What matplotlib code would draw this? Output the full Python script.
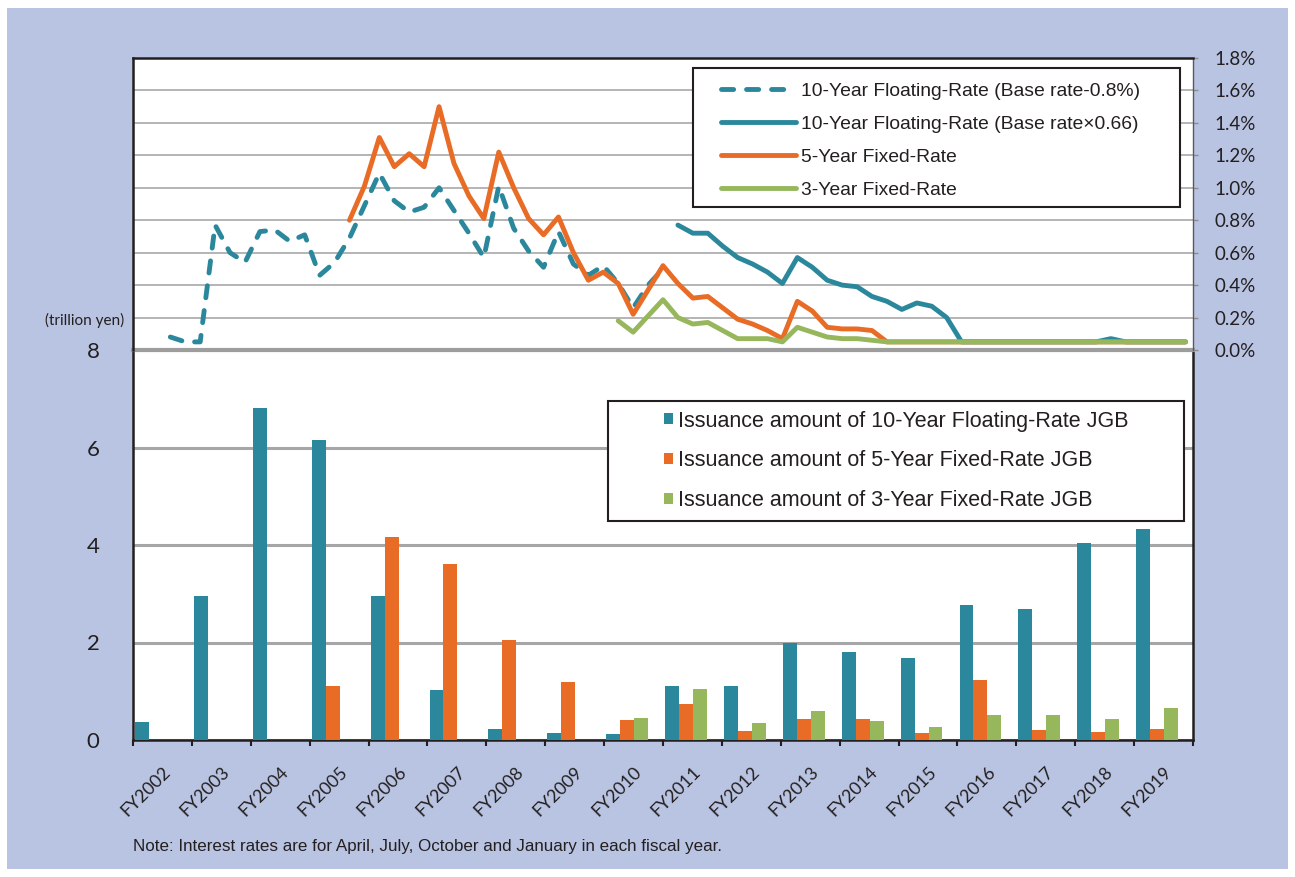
import numpy as np
import matplotlib.pyplot as plt
from matplotlib.patches import Rectangle

plt.rcParams['font.family'] = ['Lato', 'DejaVu Sans']

# fiscal years (bar categories)
years = ["FY2002", "FY2003", "FY2004", "FY2005", "FY2006", "FY2007", "FY2008", "FY2009", "FY2010",
         "FY2011", "FY2012", "FY2013", "FY2014", "FY2015", "FY2016", "FY2017", "FY2018", "FY2019"]

# issuance amount (trillion yen)
float_issue = [0.37, 2.95, 6.81, 6.15, 2.95, 1.03, 0.23, 0.15, 0.12,
               1.11, 1.11, 1.99, 1.81, 1.68, 2.77, 2.69, 4.04, 4.33]
fixed5_issue = [None, None, None, 1.11, 4.16, 3.61, 2.05, 1.19, 0.41,
                0.74, 0.18, 0.43, 0.43, 0.15, 1.23, 0.21, 0.17, 0.23]
fixed3_issue = [None, None, None, None, None, None, None, None, 0.45,
                1.05, 0.35, 0.59, 0.39, 0.27, 0.51, 0.51, 0.43, 0.66]

# interest rates (%), quarterly: Apr/Jul/Oct/Jan, FY2002 Q1 .. FY2019 Q3 (71 points)
n_quarters = 71
float_old_start = 2
float_old_rate = [0.08, 0.05, 0.05, 0.77, 0.60, 0.54, 0.73, 0.74, 0.67, 0.71, 0.46, 0.54,
                  0.69, 0.89, 1.09, 0.92, 0.85, 0.88, 1.00, 0.86, 0.72, 0.57, 1.01, 0.75,
                  0.61, 0.51, 0.73, 0.53, 0.46, 0.52, 0.41, 0.26, 0.40, 0.50]
float_new_start = 36
float_new_rate = [0.77, 0.72, 0.72, 0.64, 0.57, 0.53, 0.48, 0.41, 0.57, 0.51, 0.43, 0.40,
                  0.39, 0.33, 0.30, 0.25, 0.29, 0.27, 0.20, 0.05, 0.05, 0.05, 0.05, 0.05,
                  0.05, 0.05, 0.05, 0.05, 0.05, 0.07, 0.05, 0.05, 0.05, 0.05, 0.05]
fixed5_start = 14
fixed5_rate = [0.80, 1.01, 1.31, 1.13, 1.21, 1.13, 1.50, 1.15, 0.95, 0.81, 1.22, 1.00,
               0.81, 0.71, 0.82, 0.60, 0.43, 0.48, 0.41, 0.22, 0.37, 0.52, 0.41, 0.32,
               0.33, 0.26, 0.19, 0.16, 0.12, 0.07, 0.30, 0.24, 0.14, 0.13, 0.13, 0.12,
               0.05, 0.05, 0.05, 0.05, 0.05, 0.05, 0.05, 0.05, 0.05, 0.05, 0.05, 0.05,
               0.05, 0.05, 0.05, 0.05, 0.05, 0.05, 0.05, 0.05, 0.05]
fixed3_start = 32
fixed3_rate = [0.18, 0.11, 0.21, 0.31, 0.20, 0.16, 0.17, 0.12, 0.07, 0.07, 0.07, 0.05,
               0.14, 0.11, 0.08, 0.07, 0.07, 0.06, 0.05, 0.05, 0.05, 0.05, 0.05, 0.05,
               0.05, 0.05, 0.05, 0.05, 0.05, 0.05, 0.05, 0.05, 0.05, 0.05, 0.05, 0.05,
               0.05, 0.05, 0.05]

rate_labels = ["10-Year Floating-Rate (Base rate-0.8%)", "10-Year Floating-Rate (Base rate\u00d70.66)",
               "5-Year Fixed-Rate", "3-Year Fixed-Rate"]
bar_labels = ["Issuance amount of 10-Year Floating-Rate JGB", "Issuance amount of 5-Year Fixed-Rate JGB",
              "Issuance amount of 3-Year Fixed-Rate JGB"]

TEAL = '#2b889c'
ORANGE = '#e86c26'
GREEN = '#96b75c'
DARK = '#231f20'
BG = '#b9c4e2'

W, H = 1295, 877
fig = plt.figure(figsize=(W / 100, H / 100), dpi=100)
fig.patch.set_facecolor('white')
fig.add_artist(Rectangle((7 / W, 8 / H), 1281 / W, 861 / H, transform=fig.transFigure,
                         facecolor=BG, edgecolor='none', zorder=-10))


def px_box(x0, y0, x1, y1):
    return [x0 / W, 1 - y1 / H, (x1 - x0) / W, (y1 - y0) / H]


ax_bar = fig.add_axes(px_box(133, 350, 1193, 740))
ax_rate = fig.add_axes(px_box(133, 58, 1193, 350))

# ---- bars ----
def clean(v):
    return [np.nan if x is None else x for x in v]

xk = np.arange(len(years))
bw = 0.237
b1 = ax_bar.bar(xk + 0.035 + bw / 2, clean(float_issue), bw, color=TEAL, zorder=3)
b2 = ax_bar.bar(xk + 0.035 + bw * 1.5, clean(fixed5_issue), bw, color=ORANGE, zorder=3)
b3 = ax_bar.bar(xk + 0.035 + bw * 2.5, clean(fixed3_issue), bw, color=GREEN, zorder=3)

ax_bar.set_xlim(0, len(years))
ax_bar.set_ylim(0, 8)
ax_bar.set_facecolor('white')
ax_bar.set_yticks([0, 2, 4, 6, 8])
ax_bar.tick_params(axis='y', length=0, pad=24, labelsize=16, labelcolor=DARK)
ax_bar.yaxis.grid(True, color='#a6a6a6', lw=2.2)
ax_bar.set_axisbelow(True)
ax_bar.set_xticks(np.arange(len(years) + 1))
ax_bar.set_xticklabels([])
ax_bar.tick_params(axis='x', which='major', length=4.5, width=1.5, color=DARK, direction='out')
ax_bar.set_xticks(xk + 0.5, minor=True)
ax_bar.set_xticklabels(years, minor=True, rotation=45, ha='right', va='top',
                       rotation_mode='anchor', fontsize=12.8, color=DARK)
ax_bar.tick_params(axis='x', which='minor', length=0, pad=17)
for s in ['left', 'bottom', 'right']:
    ax_bar.spines[s].set_color(DARK)
    ax_bar.spines[s].set_linewidth(1.8)
ax_bar.spines['top'].set_visible(False)

# ---- rate lines ----
ax_rate.set_xlim(-0.5, n_quarters - 0.5)
ax_rate.set_ylim(0, 1.8)
ax_rate.set_facecolor('white')


def qx(start, vals):
    return start + np.arange(len(vals))


l1, = ax_rate.plot(qx(float_old_start, float_old_rate), float_old_rate, color=TEAL, lw=3.5,
                   ls=(0, (2.5, 2.65)), dash_capstyle='round', solid_joinstyle='round', zorder=3)
l2, = ax_rate.plot(qx(float_new_start, float_new_rate), float_new_rate, color=TEAL, lw=3.5,
                   solid_capstyle='round', solid_joinstyle='round', zorder=3)
l3, = ax_rate.plot(qx(fixed5_start, fixed5_rate), fixed5_rate, color=ORANGE, lw=3.5,
                   solid_capstyle='round', solid_joinstyle='round', zorder=3)
l4, = ax_rate.plot(qx(fixed3_start, fixed3_rate), fixed3_rate, color=GREEN, lw=3.5,
                   solid_capstyle='round', solid_joinstyle='round', zorder=3)

rate_ticks = [0.0, 0.2, 0.4, 0.6, 0.8, 1.0, 1.2, 1.4, 1.6, 1.8]
ax_rate.set_yticks(rate_ticks)
ax_rate.set_yticklabels([f"{v:.1f}%" for v in rate_ticks])
ax_rate.yaxis.tick_right()
ax_rate.tick_params(axis='y', length=3.6, width=1, color='#8c8c8c', pad=12,
                    labelsize=13.5, labelcolor=DARK)
ax_rate.set_xticks([])
ax_rate.yaxis.grid(True, color='#a0a0a0', lw=1.1)
ax_rate.set_axisbelow(True)
ax_rate.axhline(0, color='#9d9d9d', lw=3, clip_on=False, zorder=2)
ax_rate.spines['bottom'].set_visible(False)
for s in ['left', 'top']:
    ax_rate.spines[s].set_color(DARK)
    ax_rate.spines[s].set_linewidth(1.8)
ax_rate.spines['right'].set_color('#595959')
ax_rate.spines['right'].set_linewidth(1)

# ---- legends ----
fig.add_artist(Rectangle((693 / W, 1 - 207 / H), (1180 - 693) / W, (207 - 68) / H,
                         transform=fig.transFigure, facecolor='white', edgecolor=DARK,
                         lw=1.5, zorder=5))
leg1 = fig.legend([l1, l2, l3, l4], rate_labels, loc='center left',
                  bbox_to_anchor=(721 / W, 1 - 140.5 / H), frameon=False, borderpad=0,
                  borderaxespad=0, handlelength=3.9, handletextpad=0.26, labelspacing=0.8,
                  prop={'family': 'Liberation Sans', 'size': 13.9})
leg1.set_zorder(6)
for t in leg1.get_texts():
    t.set_color(DARK)

fig.add_artist(Rectangle((608 / W, 1 - 521 / H), (1184 - 608) / W, (521 - 401) / H,
                         transform=fig.transFigure, facecolor='white', edgecolor=DARK,
                         lw=1.5, zorder=5))
leg2 = fig.legend([b1, b2, b3], bar_labels, loc='center left',
                  bbox_to_anchor=(664 / W, 1 - 461 / H), frameon=False, borderpad=0,
                  borderaxespad=0, handlelength=0.42, handleheight=0.42, handletextpad=0.22,
                  labelspacing=0.88, prop={'family': 'Liberation Sans', 'size': 15.5})
leg2.set_zorder(6)
for t in leg2.get_texts():
    t.set_color(DARK)

# ---- texts ----
fig.text(85 / W, 1 - 320 / H, "(trillion yen)", ha='center', va='center', fontsize=11, color=DARK)
fig.text(133 / W, 1 - 846 / H,
         "Note: Interest rates are for April, July, October and January in each fiscal year.",
         ha='left', va='center', fontsize=12.25, family='Liberation Sans', color=DARK)

fig.savefig('out.png', dpi=100)
